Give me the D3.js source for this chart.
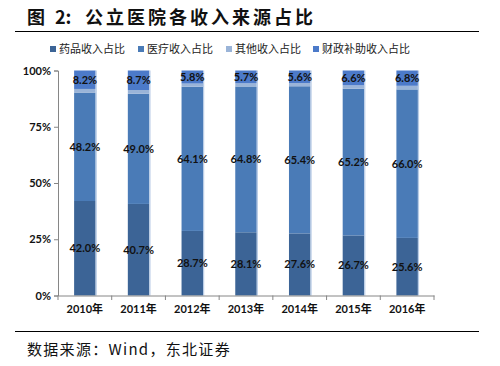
<!DOCTYPE html>
<html><head><meta charset="utf-8">
<script src="https://cdn.jsdelivr.net/npm/d3@7"></script>
<style>body{margin:0;background:#fff}svg{display:block}</style>
</head><body>
<svg id="c" width="500" height="366"></svg>
<script>
const years = ["2010年","2011年","2012年","2013年","2014年","2015年","2016年"];
const drug = [42.0,40.7,28.7,28.1,27.6,26.7,25.6];
const medical = [48.2,49.0,64.1,64.8,65.4,65.2,66.0];
const other = [1.6,1.6,1.4,1.4,1.4,1.5,1.6];
const subsidy = [8.2,8.7,5.8,5.7,5.6,6.6,6.8];
const seriesNames = ["药品收入占比","医疗收入占比","其他收入占比","财政补助收入占比"];
const yTicks = [0,25,50,75,100];

const colors = ["#3C6496","#4A7BB7","#9AB4D8","#4C7AC9"];
const rows = years.map((y,i)=>({year:y,s0:drug[i],s1:medical[i],s2:other[i],s3:subsidy[i]}));
const keys = ["s0","s1","s2","s3"];
const stacked = d3.stack().keys(keys)(rows);

const svg = d3.select("#c");
const sans = "Lato, 'Noto Sans CJK SC', sans-serif";
const cjk = "'Noto Sans CJK SC', sans-serif";

// title
const t = svg.append("text").attr("y",24).attr("font-family",cjk).attr("font-weight","bold")
  .attr("font-size",18).attr("fill","#111");
t.append("tspan").attr("x",27).text("图");
t.append("tspan").attr("x",55).text("2:");
t.append("tspan").attr("x",85).attr("letter-spacing",3).text("公立医院各收入来源占比");
svg.append("line").attr("x1",15).attr("x2",479).attr("y1",31.5).attr("y2",31.5).attr("stroke","#000").attr("stroke-width",1);
svg.append("line").attr("x1",15).attr("x2",479).attr("y1",331.5).attr("y2",331.5).attr("stroke","#000").attr("stroke-width",1);
svg.append("text").attr("x",27).attr("y",355).attr("font-family",cjk).attr("letter-spacing",1.3)
  .attr("font-size",15).attr("fill","#111").text("数据来源：Wind，东北证券");

const x = d3.scaleBand().domain(years).range([58,434]).paddingInner(0.6).paddingOuter(0.3);
const xb = d3.scaleBand().domain(years).range([58,434]);
const y = d3.scaleLinear().domain([0,100]).range([295.5,70.5]);

// legend
const legX = [50,138,226,313];
const leg = svg.append("g");
seriesNames.forEach((n,i)=>{
  leg.append("rect").attr("x",legX[i]).attr("y",46).attr("width",6).attr("height",6).attr("fill",colors[i]);
  leg.append("text").attr("x",legX[i]+9).attr("y",53).attr("font-family",cjk).attr("font-size",11)
    .attr("fill","#222").text(n);
});

// bars
stacked.forEach((s,si)=>{
  svg.append("g").selectAll("rect").data(s).join("rect")
    .attr("x",d=>x(d.data.year)).attr("width",x.bandwidth())
    .attr("y",d=>y(d[1])).attr("height",d=>y(d[0])-y(d[1]))
    .attr("fill",colors[si]);
});
// subtle light right edge
svg.append("g").selectAll("rect").data(rows).join("rect")
  .attr("x",d=>x(d.year)+x.bandwidth()).attr("width",1.2)
  .attr("y",y(100)).attr("height",y(0)-y(100)).attr("fill","#B9CCE6");

// labels
const labelSeries = [0,1,3];
labelSeries.forEach(si=>{
  svg.append("g").selectAll("text").data(stacked[si]).join("text")
    .attr("x",d=>x(d.data.year)+x.bandwidth()/2)
    .attr("y",d=>(y(d[0])+y(d[1]))/2+4)
    .attr("text-anchor","middle").attr("font-family",sans).attr("font-weight","bold")
    .attr("font-size",11).attr("fill","#111")
    .text(d=>(d[1]-d[0]).toFixed(1)+"%");
});

// axes
const yAxis = d3.axisLeft(y).tickValues(yTicks).tickSize(4).tickFormat(d=>d+"%");
const gy = svg.append("g").attr("transform","translate(58,0)").call(yAxis);
gy.select(".domain").attr("stroke","#868686");
gy.selectAll(".tick line").attr("stroke","#868686");
gy.selectAll(".tick text").attr("font-family",sans).attr("font-weight","bold").attr("font-size",11).attr("fill","#111").attr("x",-7);

const xAxis = d3.axisBottom(xb).tickSize(0).tickSizeOuter(0);
const gx = svg.append("g").attr("transform","translate(0,295.5)").call(xAxis);
gx.select(".domain").attr("stroke","#868686");
gx.selectAll(".tick text").attr("font-family",sans).attr("font-weight","bold").attr("font-size",11).attr("fill","#111").attr("dy","1.3em");
// boundary tick marks
const bounds = years.map(d=>xb(d)).concat([434]);
svg.append("g").selectAll("line").data(bounds).join("line")
  .attr("x1",d=>d).attr("x2",d=>d).attr("y1",295.5).attr("y2",300).attr("stroke","#868686");
</script>
</body></html>
